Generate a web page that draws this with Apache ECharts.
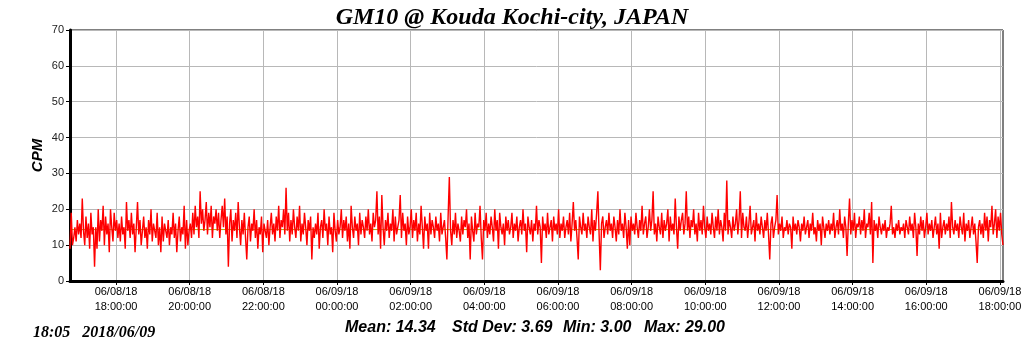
<!DOCTYPE html>
<html>
<head>
<meta charset="utf-8">
<title>GM10 @ Kouda Kochi-city, JAPAN</title>
<script src="https://cdn.jsdelivr.net/npm/echarts@6/dist/echarts.min.js"></script>
<style>
  html, body { margin: 0; padding: 0; background: #fff; }
  #chart { width: 1024px; height: 351px; }
</style>
</head>
<body>
<div id="chart"></div>
<script>
// readings, one every 2 minutes from startTime
var startTime = '2018/06/08 16:45';
var endTime = '2018/06/09 18:05';
var stepMinutes = 2;
var cpm = [
  9,19,10,12,15,11,17,13,16,12, 23,14,10,18,12,16,9,19,13,15,
  4,15,9,20,11,17,14,21,10,18, 13,16,8,20,15,11,19,14,17,12,
  16,11,18,13,15,9,22,14,17,12, 19,13,16,8,15,22,13,17,10,14,
  18,12,15,9,17,13,20,11,16,14, 12,19,10,15,8,18,11,16,14,12,
  17,10,15,13,19,12,16,8,14,18, 11,15,13,21,9,17,10,14,16,12,
  19,13,21,15,18,12,25,16,20,14, 17,22,13,19,15,21,12,18,16,20,
  14,19,12,17,21,15,23,13,18,4, 16,20,11,17,14,19,12,22,15,10,
  17,13,19,12,6,15,18,11,16,14, 20,12,17,9,15,13,18,8,16,14,
  12,17,10,15,19,13,16,11,18,14, 21,12,17,15,20,13,26,14,19,11,
  17,13,20,15,12,18,14,21,11,16, 13,19,15,10,17,14,18,6,15,12,
  16,13,19,9,15,17,12,20,14,16, 10,18,13,15,8,19,14,11,17,13,
  15,20,12,17,14,18,11,16,9,21, 15,12,18,14,16,10,19,13,17,15,
  12,18,14,20,13,16,11,19,15,17, 25,13,18,9,24,15,10,17,14,19,
  12,16,14,20,11,18,13,15,17,24, 12,19,14,16,10,18,13,15,20,12,
  17,14,19,11,16,13,21,15,9,18, 14,16,9,19,13,17,15,12,18,14,
  16,11,19,13,15,17,12,6,18,29, 14,10,17,13,19,12,16,14,11,18,
  13,17,15,20,12,16,6,18,14,11, 19,13,16,15,21,12,6,17,14,19,
  12,16,13,18,15,11,20,14,17,9, 19,15,13,16,10,18,14,17,13,15,
  19,12,16,14,18,11,15,17,13,20, 14,16,8,18,15,13,17,11,16,14,
  21,13,17,15,5,18,14,16,12,19, 13,15,17,11,18,14,16,13,20,12,
  16,14,18,12,15,17,13,19,11,16, 22,14,17,12,6,18,15,13,19,14,
  16,12,18,15,13,20,11,17,14,19, 25,13,3,16,18,12,15,17,13,19,
  14,16,12,18,15,11,17,13,20,14, 16,12,19,15,9,17,10,18,14,16,
  13,19,15,12,17,14,21,13,16,18, 12,15,20,14,17,25,13,16,11,18,
  15,13,19,12,17,14,16,20,11,18, 14,16,13,23,15,9,18,14,17,19,
  13,16,25,14,18,12,17,15,20,13, 16,11,19,14,17,13,21,15,12,18,
  14,16,13,19,15,12,18,14,20,13, 17,15,11,19,14,28,13,17,15,12,
  18,14,16,20,13,17,25,12,19,15, 14,18,12,16,21,13,15,17,11,19,
  14,16,13,18,15,12,17,14,19,13, 6,16,18,12,15,17,24,13,16,14,
  18,12,15,14,17,13,16,15,9,18, 14,16,13,17,15,11,16,14,18,13,
  15,17,12,16,14,19,13,15,11,17, 14,16,10,18,15,12,16,14,17,13,
  16,14,19,12,15,17,13,20,14,16, 12,18,15,7,16,23,13,17,14,19,
  12,16,15,18,13,17,14,20,12,16, 15,19,13,22,5,17,14,16,12,18,
  15,13,16,14,17,12,15,14,16,21, 13,15,12,16,14,17,13,15,14,16,
  12,17,15,13,18,14,16,12,19,15, 7,16,13,18,14,17,12,15,19,13,
  16,14,17,12,15,18,13,16,9,19, 12,15,17,13,16,14,18,12,22,15,
  13,17,14,16,12,18,15,13,19,11, 16,14,17,12,15,18,13,16,11,5,
  15,17,13,16,12,19,14,18,11,17, 15,21,13,16,20,12,18,14,19,13,
  10
];
var tickTimes = [
  '2018/06/08 18:00', '2018/06/08 20:00', '2018/06/08 22:00',
  '2018/06/09 00:00', '2018/06/09 02:00', '2018/06/09 04:00',
  '2018/06/09 06:00', '2018/06/09 08:00', '2018/06/09 10:00',
  '2018/06/09 12:00', '2018/06/09 14:00', '2018/06/09 16:00',
  '2018/06/09 18:00'
];
var yTicks = [0, 10, 20, 30, 40, 50, 60, 70];
var meanValue = 14.34;
var stdDev = 3.69;
var minValue = 3.00;
var maxValue = 29.00;
var stampText = '18:05   2018/06/09';

function parseTime(s) {
  var p = s.split(/[\/ :]/).map(Number);
  return new Date(p[0], p[1] - 1, p[2], p[3], p[4]).getTime();
}
function pad(n) { return (n < 10 ? '0' : '') + n; }
function fmtTick(v) {
  var d = new Date(v);
  return pad(d.getMonth() + 1) + '/' + pad(d.getDate()) + '/' + pad(d.getFullYear() % 100) +
    '\n' + pad(d.getHours()) + ':' + pad(d.getMinutes()) + ':' + pad(d.getSeconds());
}

var t0 = parseTime(startTime);
var t1 = parseTime(endTime);
var points = cpm.map(function (v, i) { return [t0 + i * stepMinutes * 60000, v]; });
var ticks = tickTimes.map(parseTime);

var chart = echarts.init(document.getElementById('chart'));
chart.setOption({
  animation: false,
  backgroundColor: '#fff',
  title: {
    text: 'GM10 @ Kouda Kochi-city, JAPAN',
    left: 'center',
    top: 1,
    textStyle: {
      fontFamily: 'Liberation Serif',
      fontStyle: 'italic',
      fontWeight: 'bold',
      fontSize: 24,
      color: '#000'
    }
  },
  grid: {
    left: 70,
    top: 30,
    width: 933,
    height: 251,
    show: true,
    borderColor: '#000',
    borderWidth: 1,
    containLabel: false,
    outerBoundsMode: 'none'
  },
  xAxis: {
    type: 'value',
    min: t0,
    max: t1,
    axisLine: { show: true, onZero: false, lineStyle: { color: '#000', width: 3 } },
    axisTick: { show: true, length: 4, customValues: ticks, lineStyle: { color: '#000' } },
    axisLabel: {
      customValues: ticks,
      formatter: fmtTick,
      margin: 4,
      fontFamily: 'Liberation Sans',
      fontSize: 11,
      lineHeight: 14.5,
      color: '#000',
      hideOverlap: false
    },
    splitLine: { show: true, lineStyle: { color: '#b8b8b8', width: 1 } }
  },
  yAxis: {
    type: 'value',
    min: yTicks[0],
    max: yTicks[yTicks.length - 1],
    interval: 10,
    name: 'CPM',
    nameLocation: 'middle',
    nameGap: 25,
    nameMoveOverlap: false,
    nameTextStyle: {
      fontFamily: 'Liberation Sans',
      fontStyle: 'italic',
      fontWeight: 'bold',
      fontSize: 15,
      color: '#000'
    },
    axisLine: { show: true, lineStyle: { color: '#000', width: 3 } },
    axisTick: { show: true, length: 4, lineStyle: { color: '#000' } },
    axisLabel: {
      margin: 6,
      fontFamily: 'Liberation Sans',
      fontSize: 11,
      color: '#222'
    },
    splitLine: { show: true, lineStyle: { color: '#b8b8b8', width: 1 } }
  },
  series: [
    {
      name: 'mean',
      type: 'line',
      data: [[t0, meanValue], [t1, meanValue]],
      symbol: 'none',
      silent: true,
      lineStyle: { color: '#b4a400', width: 1 }
    },
    {
      name: 'CPM',
      type: 'line',
      data: points,
      symbol: 'none',
      lineStyle: { color: '#ff0000', width: 1.4 }
    }
  ],
  graphic: [
    {
      type: 'text',
      left: 33,
      top: 325,
      style: {
        text: stampText,
        font: 'italic bold 16px "Liberation Serif"',
        fill: '#000'
      }
    },
    {
      type: 'text', left: 345, top: 320,
      style: { text: 'Mean: ' + meanValue.toFixed(2), font: 'italic bold 16px "Liberation Sans"', fill: '#000' }
    },
    {
      type: 'text', left: 452, top: 320,
      style: { text: 'Std Dev: ' + stdDev.toFixed(2), font: 'italic bold 16px "Liberation Sans"', fill: '#000' }
    },
    {
      type: 'text', left: 563, top: 320,
      style: { text: 'Min: ' + minValue.toFixed(2), font: 'italic bold 16px "Liberation Sans"', fill: '#000' }
    },
    {
      type: 'text', left: 644, top: 320,
      style: { text: 'Max: ' + maxValue.toFixed(2), font: 'italic bold 16px "Liberation Sans"', fill: '#000' }
    }
  ]
});
</script>
</body>
</html>
